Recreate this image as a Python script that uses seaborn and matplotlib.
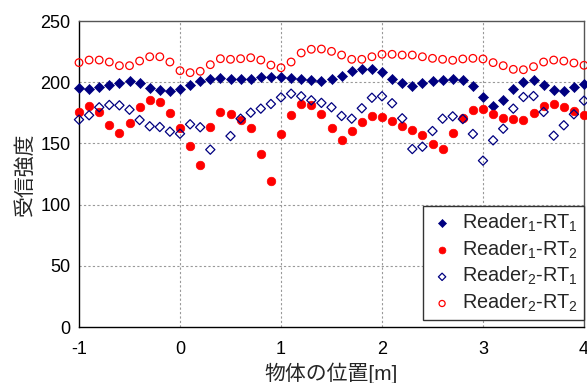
import numpy as np
import pandas as pd
import matplotlib
matplotlib.use("Agg")
import matplotlib.pyplot as plt
import seaborn as sns

positions = [-1.0, -0.9, -0.8, -0.7, -0.6, -0.5, -0.4, -0.3, -0.2, -0.1,
             0.0, 0.1, 0.2, 0.3, 0.4, 0.5, 0.6, 0.7, 0.8, 0.9,
             1.0, 1.1, 1.2, 1.3, 1.4, 1.5, 1.6, 1.7, 1.8, 1.9,
             2.0, 2.1, 2.2, 2.3, 2.4, 2.5, 2.6, 2.7, 2.8, 2.9,
             3.0, 3.1, 3.2, 3.3, 3.4, 3.5, 3.6, 3.7, 3.8, 3.9,
             4.0]

r1_rt1 = [195.5, 194.2, 195.8, 198.0, 199.6, 201.2, 199.6, 195.5, 193.4, 192.8,
          194.2, 197.5, 201.2, 202.6, 203.2, 202.4, 202.4, 202.9, 204.2, 204.2,
          204.0, 203.2, 202.4, 201.5, 201.2, 202.9, 205.3, 209.2, 211.0, 211.0,
          208.6, 202.9, 199.0, 197.2, 199.1, 200.7, 201.8, 202.6, 201.5, 196.9,
          187.9, 180.6, 185.5, 194.4, 200.2, 201.8, 198.0, 193.4, 192.8, 195.8,
          198.5]

r1_rt2 = [175.7, 180.6, 175.4, 165.3, 158.8, 166.9, 179.5, 185.5, 183.6, 174.6,
          162.6, 147.6, 132.1, 163.7, 175.7, 174.0, 169.1, 162.8, 141.3, 119.0,
          157.9, 173.0, 182.2, 181.6, 174.0, 162.3, 152.5, 160.4, 167.5, 172.1,
          171.8, 168.5, 164.5, 161.2, 156.9, 149.3, 145.2, 158.2, 170.8, 177.5,
          178.4, 174.3, 170.5, 169.7, 168.9, 174.6, 180.8, 182.2, 179.5, 176.5,
          173.5]

r2_rt1 = [169.4, 173.0, 179.5, 181.4, 181.1, 177.5, 169.1, 164.0, 163.4, 159.6,
          157.9, 165.6, 163.2, 144.9, np.nan, 156.0, 170.2, 175.1, 178.4, 182.2,
          187.6, 190.6, 188.5, 185.2, 183.1, 179.5, 172.4, 170.2, 178.7, 187.3,
          188.5, 182.8, 170.5, 145.4, 147.3, 160.1, 170.2, 172.1, 169.9, 157.7,
          135.9, 152.5, 162.0, 178.4, 187.9, 188.7, 175.7, 156.3, 164.8, 173.8,
          184.9]

r2_rt2 = [216.0, 218.1, 218.1, 216.5, 213.5, 213.5, 217.3, 220.8, 220.8, 216.5,
          209.4, 207.8, 208.9, 214.3, 219.2, 218.7, 219.2, 220.0, 218.1, 214.0,
          211.8, 216.5, 223.9, 226.9, 227.1, 225.2, 222.2, 218.7, 218.7, 220.8,
          222.8, 222.8, 222.2, 222.2, 220.8, 219.5, 218.7, 217.9, 219.0, 219.5,
          219.0, 216.0, 213.5, 210.5, 210.2, 212.7, 216.5, 218.1, 217.3, 215.7,
          213.8]

series_labels = ["Reader$_1$-RT$_1$", "Reader$_1$-RT$_2$",
                 "Reader$_2$-RT$_1$", "Reader$_2$-RT$_2$"]
x_ticks = [-1, 0, 1, 2, 3, 4]
y_ticks = [0, 50, 100, 150, 200, 250]
x_label = "物体の位置[m]"
y_label = "受信強度"

sns.set_theme(style="white")
plt.rcParams["font.family"] = ["Liberation Sans", "Noto Sans CJK JP", "DejaVu Sans"]
plt.rcParams["mathtext.fontset"] = "custom"
plt.rcParams["mathtext.rm"] = "Liberation Sans"
plt.rcParams["mathtext.it"] = "Liberation Sans:italic"
plt.rcParams["mathtext.bf"] = "Liberation Sans:bold"

fig = plt.figure(figsize=(5.87, 3.83), dpi=100)
ax = fig.add_axes([79 / 587, 56 / 383, 505 / 587, 306 / 383])

navy = "#000080"
red = "#ff0000"
styles = [
    dict(marker="D", s=26, color=navy, edgecolor=navy, linewidth=0.5),
    dict(marker="o", s=38, color=red, edgecolor=red, linewidth=0.5),
    dict(marker="D", s=22, facecolor="none", edgecolor=navy, linewidth=0.9),
    dict(marker="o", s=30, facecolor="none", edgecolor=red, linewidth=0.9),
]
all_series = [r1_rt1, r1_rt2, r2_rt1, r2_rt2]

for vals, lab, st in zip(all_series, series_labels, styles):
    df = pd.DataFrame({"pos": positions, "val": vals})
    sns.scatterplot(data=df, x="pos", y="val", ax=ax, label=lab,
                    clip_on=False, zorder=3, **st)

ax.set_xlim(-1, 4)
ax.set_ylim(0, 250)
ax.set_xticks(x_ticks)
ax.set_yticks(y_ticks)
ax.set_xticklabels([str(t) for t in x_ticks])
ax.set_yticklabels([str(t) for t in y_ticks])
ax.tick_params(direction="in", length=4, width=0.8, labelsize=13, colors="black")
ax.tick_params(axis="x", pad=10)
ax.tick_params(axis="y", pad=6)

for v in [0, 1, 2, 3]:
    ax.axvline(v, color="#999999", linestyle=(0, (2, 2)), linewidth=0.8, zorder=1)
for v in [50, 100, 150, 200]:
    ax.axhline(v, color="#999999", linestyle=(0, (2, 2)), linewidth=0.8, zorder=1)

for side in ["left", "bottom"]:
    ax.spines[side].set_color("black")
    ax.spines[side].set_linewidth(1.0)
for side in ["top", "right"]:
    ax.spines[side].set_color("#555555")
    ax.spines[side].set_linewidth(1.0)

ax.set_xlabel(x_label, fontsize=15, labelpad=3)
ax.set_ylabel(y_label, fontsize=15, labelpad=4)

leg = ax.legend(loc="lower right", bbox_to_anchor=(1.0, 0.023), borderaxespad=0,
                fontsize=14.3, frameon=True, fancybox=False, framealpha=1,
                edgecolor="#333333", handletextpad=0.35, borderpad=0.3,
                labelspacing=0.22, handlelength=1.3, markerscale=0.8)
leg.get_frame().set_linewidth(1.0)

fig.savefig("out.png", dpi=100)
